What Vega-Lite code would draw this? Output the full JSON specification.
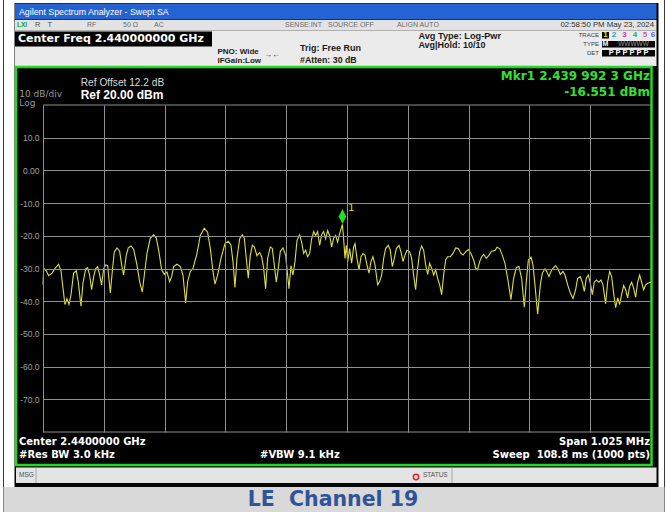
{
  "$schema": "https://vega.github.io/schema/vega-lite/v6.json",
  "width": 608,
  "height": 327,
  "autosize": {"type": "none"},
  "padding": {"left": 43, "top": 105, "right": 15, "bottom": 80},
  "background": "white",
  "config": {"view": {"stroke": null}, "axis": {"labelOverlap": false}, "text": {"font": "Liberation Sans", "baseline": "middle", "align": "left"}},
  "datasets": {
    "trace": [
      {"freq": 2439.4875, "dbm": -35.0}, {"freq": 2439.4886, "dbm": -30.4}, {"freq": 2439.4897, "dbm": -30.1}, {"freq": 2439.4931, "dbm": -30.7},
      {"freq": 2439.497, "dbm": -32.2}, {"freq": 2439.5026, "dbm": -31.4}, {"freq": 2439.5082, "dbm": -29.9}, {"freq": 2439.5138, "dbm": -28.7},
      {"freq": 2439.5178, "dbm": -30.7}, {"freq": 2439.5212, "dbm": -36.0}, {"freq": 2439.5245, "dbm": -41.0}, {"freq": 2439.5279, "dbm": -39.2},
      {"freq": 2439.5313, "dbm": -41.0}, {"freq": 2439.5347, "dbm": -38.0}, {"freq": 2439.5391, "dbm": -31.4}, {"freq": 2439.5436, "dbm": -30.7},
      {"freq": 2439.547, "dbm": -34.2}, {"freq": 2439.5515, "dbm": -41.5}, {"freq": 2439.5549, "dbm": -34.5}, {"freq": 2439.5594, "dbm": -30.1},
      {"freq": 2439.5627, "dbm": -29.7}, {"freq": 2439.5661, "dbm": -32.0}, {"freq": 2439.5695, "dbm": -36.5}, {"freq": 2439.5729, "dbm": -32.5},
      {"freq": 2439.5762, "dbm": -30.1}, {"freq": 2439.5796, "dbm": -29.4}, {"freq": 2439.583, "dbm": -32.0}, {"freq": 2439.5863, "dbm": -35.0},
      {"freq": 2439.5897, "dbm": -30.1}, {"freq": 2439.5931, "dbm": -28.9}, {"freq": 2439.5965, "dbm": -29.1}, {"freq": 2439.601, "dbm": -37.5},
      {"freq": 2439.6043, "dbm": -30.9}, {"freq": 2439.6077, "dbm": -24.9}, {"freq": 2439.6122, "dbm": -23.7}, {"freq": 2439.6167, "dbm": -24.7},
      {"freq": 2439.6201, "dbm": -28.9}, {"freq": 2439.6234, "dbm": -32.0}, {"freq": 2439.6279, "dbm": -25.9}, {"freq": 2439.6313, "dbm": -23.7},
      {"freq": 2439.6358, "dbm": -23.1}, {"freq": 2439.6403, "dbm": -24.1}, {"freq": 2439.6459, "dbm": -28.9}, {"freq": 2439.6504, "dbm": -34.0},
      {"freq": 2439.6549, "dbm": -37.2}, {"freq": 2439.6583, "dbm": -32.0}, {"freq": 2439.6628, "dbm": -25.4}, {"freq": 2439.6684, "dbm": -20.7},
      {"freq": 2439.674, "dbm": -19.7}, {"freq": 2439.6785, "dbm": -20.7}, {"freq": 2439.683, "dbm": -24.9}, {"freq": 2439.6875, "dbm": -30.4},
      {"freq": 2439.692, "dbm": -31.8}, {"freq": 2439.6965, "dbm": -31.1}, {"freq": 2439.701, "dbm": -34.0}, {"freq": 2439.7044, "dbm": -32.5},
      {"freq": 2439.7077, "dbm": -29.4}, {"freq": 2439.7134, "dbm": -28.7}, {"freq": 2439.719, "dbm": -29.4}, {"freq": 2439.7235, "dbm": -32.0},
      {"freq": 2439.728, "dbm": -40.5}, {"freq": 2439.7313, "dbm": -34.0}, {"freq": 2439.7358, "dbm": -30.9}, {"freq": 2439.7403, "dbm": -30.0},
      {"freq": 2439.7471, "dbm": -25.4}, {"freq": 2439.7527, "dbm": -19.9}, {"freq": 2439.7594, "dbm": -17.7}, {"freq": 2439.765, "dbm": -18.9},
      {"freq": 2439.7696, "dbm": -23.9}, {"freq": 2439.7741, "dbm": -30.9}, {"freq": 2439.7774, "dbm": -34.8}, {"freq": 2439.7819, "dbm": -32.0},
      {"freq": 2439.7875, "dbm": -26.9}, {"freq": 2439.7943, "dbm": -22.4}, {"freq": 2439.7999, "dbm": -21.7}, {"freq": 2439.8044, "dbm": -22.9},
      {"freq": 2439.8078, "dbm": -27.9}, {"freq": 2439.8111, "dbm": -35.8}, {"freq": 2439.8145, "dbm": -26.9}, {"freq": 2439.819, "dbm": -20.9},
      {"freq": 2439.8235, "dbm": -19.7}, {"freq": 2439.8269, "dbm": -20.7}, {"freq": 2439.8302, "dbm": -26.9}, {"freq": 2439.8336, "dbm": -33.0},
      {"freq": 2439.837, "dbm": -25.9}, {"freq": 2439.8404, "dbm": -22.9}, {"freq": 2439.8437, "dbm": -23.4}, {"freq": 2439.8482, "dbm": -26.1},
      {"freq": 2439.8527, "dbm": -25.1}, {"freq": 2439.8561, "dbm": -26.4}, {"freq": 2439.8595, "dbm": -29.9}, {"freq": 2439.8628, "dbm": -36.2},
      {"freq": 2439.8662, "dbm": -26.9}, {"freq": 2439.8707, "dbm": -23.4}, {"freq": 2439.8741, "dbm": -23.9}, {"freq": 2439.8774, "dbm": -28.9},
      {"freq": 2439.8808, "dbm": -34.2}, {"freq": 2439.8842, "dbm": -29.9}, {"freq": 2439.8876, "dbm": -24.7}, {"freq": 2439.8921, "dbm": -23.7},
      {"freq": 2439.8965, "dbm": -25.9}, {"freq": 2439.8999, "dbm": -32.0}, {"freq": 2439.9022, "dbm": -36.2}, {"freq": 2439.9056, "dbm": -29.1},
      {"freq": 2439.9089, "dbm": -32.0}, {"freq": 2439.9123, "dbm": -27.9}, {"freq": 2439.9157, "dbm": -21.4}, {"freq": 2439.9202, "dbm": -19.7},
      {"freq": 2439.9235, "dbm": -21.9}, {"freq": 2439.9269, "dbm": -25.4}, {"freq": 2439.9303, "dbm": -24.4}, {"freq": 2439.9336, "dbm": -26.4},
      {"freq": 2439.937, "dbm": -25.4}, {"freq": 2439.9404, "dbm": -20.9}, {"freq": 2439.9438, "dbm": -18.7}, {"freq": 2439.9471, "dbm": -19.9},
      {"freq": 2439.9505, "dbm": -18.7}, {"freq": 2439.9539, "dbm": -22.9}, {"freq": 2439.9572, "dbm": -19.7}, {"freq": 2439.9606, "dbm": -18.7},
      {"freq": 2439.964, "dbm": -20.9}, {"freq": 2439.9674, "dbm": -18.4}, {"freq": 2439.9707, "dbm": -19.9}, {"freq": 2439.9741, "dbm": -23.4},
      {"freq": 2439.9775, "dbm": -20.7}, {"freq": 2439.9808, "dbm": -19.9}, {"freq": 2439.9842, "dbm": -21.9}, {"freq": 2439.9876, "dbm": -19.4},
      {"freq": 2439.9923, "dbm": -16.55}, {"freq": 2439.9943, "dbm": -20.9}, {"freq": 2439.9966, "dbm": -26.9}, {"freq": 2439.9988, "dbm": -22.9},
      {"freq": 2440.0011, "dbm": -27.9}, {"freq": 2440.0044, "dbm": -23.9}, {"freq": 2440.0078, "dbm": -28.4}, {"freq": 2440.0112, "dbm": -23.4},
      {"freq": 2440.0135, "dbm": -22.4}, {"freq": 2440.0168, "dbm": -26.9}, {"freq": 2440.0202, "dbm": -30.4}, {"freq": 2440.0236, "dbm": -26.4},
      {"freq": 2440.0269, "dbm": -25.4}, {"freq": 2440.0303, "dbm": -25.9}, {"freq": 2440.0337, "dbm": -28.9}, {"freq": 2440.0371, "dbm": -31.4},
      {"freq": 2440.0404, "dbm": -27.9}, {"freq": 2440.0438, "dbm": -26.4}, {"freq": 2440.0472, "dbm": -28.9}, {"freq": 2440.0517, "dbm": -35.0},
      {"freq": 2440.055, "dbm": -34.0}, {"freq": 2440.0584, "dbm": -32.0}, {"freq": 2440.0618, "dbm": -26.9}, {"freq": 2440.0651, "dbm": -23.9},
      {"freq": 2440.0696, "dbm": -22.9}, {"freq": 2440.073, "dbm": -24.4}, {"freq": 2440.0764, "dbm": -29.4}, {"freq": 2440.0798, "dbm": -26.9},
      {"freq": 2440.0831, "dbm": -23.9}, {"freq": 2440.0876, "dbm": -22.9}, {"freq": 2440.091, "dbm": -24.9}, {"freq": 2440.0944, "dbm": -27.9},
      {"freq": 2440.0977, "dbm": -25.9}, {"freq": 2440.1011, "dbm": -24.4}, {"freq": 2440.1056, "dbm": -24.9}, {"freq": 2440.109, "dbm": -26.9},
      {"freq": 2440.1123, "dbm": -32.0}, {"freq": 2440.1157, "dbm": -36.5}, {"freq": 2440.1191, "dbm": -29.9}, {"freq": 2440.1225, "dbm": -24.9},
      {"freq": 2440.1258, "dbm": -23.1}, {"freq": 2440.1292, "dbm": -24.4}, {"freq": 2440.1326, "dbm": -28.9}, {"freq": 2440.136, "dbm": -31.8},
      {"freq": 2440.1393, "dbm": -28.4}, {"freq": 2440.1427, "dbm": -29.9}, {"freq": 2440.1461, "dbm": -32.0}, {"freq": 2440.1494, "dbm": -30.4},
      {"freq": 2440.1528, "dbm": -33.0}, {"freq": 2440.1562, "dbm": -35.0}, {"freq": 2440.1596, "dbm": -38.0}, {"freq": 2440.1629, "dbm": -32.0},
      {"freq": 2440.1663, "dbm": -27.4}, {"freq": 2440.1697, "dbm": -26.4}, {"freq": 2440.1742, "dbm": -26.4}, {"freq": 2440.1787, "dbm": -25.4},
      {"freq": 2440.1832, "dbm": -23.7}, {"freq": 2440.1877, "dbm": -23.9}, {"freq": 2440.1922, "dbm": -25.4}, {"freq": 2440.1955, "dbm": -25.9},
      {"freq": 2440.2, "dbm": -24.9}, {"freq": 2440.2045, "dbm": -24.2}, {"freq": 2440.209, "dbm": -25.4}, {"freq": 2440.2135, "dbm": -27.4},
      {"freq": 2440.2169, "dbm": -29.9}, {"freq": 2440.2202, "dbm": -30.4}, {"freq": 2440.2236, "dbm": -27.9}, {"freq": 2440.227, "dbm": -26.4},
      {"freq": 2440.2304, "dbm": -25.7}, {"freq": 2440.2349, "dbm": -26.9}, {"freq": 2440.2394, "dbm": -25.9}, {"freq": 2440.2438, "dbm": -24.7},
      {"freq": 2440.25, "dbm": -24.4}, {"freq": 2440.2528, "dbm": -23.5}, {"freq": 2440.2573, "dbm": -23.9}, {"freq": 2440.2618, "dbm": -25.9},
      {"freq": 2440.2663, "dbm": -28.4}, {"freq": 2440.2708, "dbm": -33.0}, {"freq": 2440.2764, "dbm": -39.5}, {"freq": 2440.2809, "dbm": -33.0},
      {"freq": 2440.2854, "dbm": -29.7}, {"freq": 2440.2899, "dbm": -29.4}, {"freq": 2440.2944, "dbm": -33.0}, {"freq": 2440.2989, "dbm": -41.8},
      {"freq": 2440.3023, "dbm": -34.0}, {"freq": 2440.3057, "dbm": -27.4}, {"freq": 2440.3102, "dbm": -26.5}, {"freq": 2440.3135, "dbm": -28.9},
      {"freq": 2440.3169, "dbm": -35.0}, {"freq": 2440.3214, "dbm": -44.0}, {"freq": 2440.3259, "dbm": -35.0}, {"freq": 2440.3293, "dbm": -31.4},
      {"freq": 2440.3338, "dbm": -30.1}, {"freq": 2440.3371, "dbm": -31.1}, {"freq": 2440.3405, "dbm": -32.5}, {"freq": 2440.345, "dbm": -30.4},
      {"freq": 2440.3518, "dbm": -29.1}, {"freq": 2440.3562, "dbm": -30.4}, {"freq": 2440.3596, "dbm": -31.8}, {"freq": 2440.3641, "dbm": -30.9},
      {"freq": 2440.3675, "dbm": -32.0}, {"freq": 2440.372, "dbm": -35.0}, {"freq": 2440.3765, "dbm": -37.5}, {"freq": 2440.381, "dbm": -39.2},
      {"freq": 2440.3854, "dbm": -36.5}, {"freq": 2440.3888, "dbm": -33.0}, {"freq": 2440.3933, "dbm": -32.5}, {"freq": 2440.3967, "dbm": -34.2},
      {"freq": 2440.4001, "dbm": -37.0}, {"freq": 2440.4034, "dbm": -33.0}, {"freq": 2440.4068, "dbm": -32.0}, {"freq": 2440.4102, "dbm": -34.5},
      {"freq": 2440.4136, "dbm": -38.0}, {"freq": 2440.4169, "dbm": -34.2}, {"freq": 2440.4203, "dbm": -33.5}, {"freq": 2440.4248, "dbm": -34.2},
      {"freq": 2440.4282, "dbm": -33.5}, {"freq": 2440.4315, "dbm": -35.0}, {"freq": 2440.436, "dbm": -40.8}, {"freq": 2440.4394, "dbm": -34.2},
      {"freq": 2440.4428, "dbm": -30.9}, {"freq": 2440.4462, "dbm": -32.5}, {"freq": 2440.4495, "dbm": -37.5}, {"freq": 2440.4529, "dbm": -42.0},
      {"freq": 2440.4563, "dbm": -39.0}, {"freq": 2440.4596, "dbm": -41.0}, {"freq": 2440.463, "dbm": -38.0}, {"freq": 2440.4664, "dbm": -35.2},
      {"freq": 2440.4698, "dbm": -36.5}, {"freq": 2440.4731, "dbm": -39.0}, {"freq": 2440.4765, "dbm": -35.5}, {"freq": 2440.4799, "dbm": -34.2},
      {"freq": 2440.4832, "dbm": -36.0}, {"freq": 2440.4866, "dbm": -38.8}, {"freq": 2440.49, "dbm": -34.2}, {"freq": 2440.4934, "dbm": -32.0},
      {"freq": 2440.4967, "dbm": -34.2}, {"freq": 2440.5001, "dbm": -36.5}, {"freq": 2440.5035, "dbm": -35.0}, {"freq": 2440.5069, "dbm": -34.5},
      {"freq": 2440.5125, "dbm": -34.2}
    ],
    "marker": [{"freq": 2439.9923, "dbm": -16.551, "label": "1"}]
  },
  "layer": [
    {"data": {"values": [{}]}, "mark": {"type": "rule", "stroke": "#3a3a3a", "strokeWidth": 1},
     "encoding": {"x": {"datum": 2439.42091, "type": "quantitative"}, "y": {"datum": 52.11, "type": "quantitative"}, "y2": {"datum": -104.465}}},
    {"data": {"values": [{}]}, "mark": {"type": "rule", "stroke": "#3a3a3a", "strokeWidth": 1},
     "encoding": {"x": {"datum": 2440.53526, "type": "quantitative"}, "y": {"datum": 52.11, "type": "quantitative"}, "y2": {"datum": -104.465}}},
    {"data": {"values": [{}]}, "mark": {"type": "rect", "fill": "#d9d9d9"},
     "encoding": {"x": {"datum": 2439.42091, "type": "quantitative"}, "x2": {"datum": 2440.53526}, "y": {"datum": -96.82, "type": "quantitative"}, "y2": {"datum": -104.465}}},
    {"data": {"values": [{}]}, "mark": {"type": "rect", "fill": "#060606"},
     "encoding": {"x": {"datum": 2439.43945, "type": "quantitative"}, "x2": {"datum": 2440.52515}, "y": {"datum": 51.193, "type": "quantitative"}, "y2": {"datum": -96.82}}},
    {"data": {"values": [{}]}, "mark": {"type": "rect", "fill": "#2563d3"},
     "encoding": {"x": {"datum": 2439.4403, "type": "quantitative"}, "x2": {"datum": 2440.52178}, "y": {"datum": 51.04, "type": "quantitative"}, "y2": {"datum": 46.147}}},
    {"data": {"values": [{}]}, "mark": {"type": "rect", "fill": "#e3e3e3"},
     "encoding": {"x": {"datum": 2439.4403, "type": "quantitative"}, "x2": {"datum": 2440.52178}, "y": {"datum": 45.994, "type": "quantitative"}, "y2": {"datum": 42.783}}},
    {"data": {"values": [{}]}, "mark": {"type": "rect", "fill": "#ebebeb"},
     "encoding": {"x": {"datum": 2439.4403, "type": "quantitative"}, "x2": {"datum": 2440.52178}, "y": {"datum": 42.783, "type": "quantitative"}, "y2": {"datum": 31.927}}},
    {"data": {"values": [{}]}, "mark": {"type": "rect", "fill": "#000000"},
     "encoding": {"x": {"datum": 2439.4403, "type": "quantitative"}, "x2": {"datum": 2439.77241}, "y": {"datum": 42.477, "type": "quantitative"}, "y2": {"datum": 37.89}}},
    {"data": {"values": [{}]}, "mark": {"type": "rect", "fill": "#000000"},
     "encoding": {"x": {"datum": 2440.4299, "type": "quantitative"}, "x2": {"datum": 2440.4417}, "y": {"datum": 42.324, "type": "quantitative"}, "y2": {"datum": 40.336}}},
    {"data": {"values": [{}]}, "mark": {"type": "rect", "fill": "#000000"},
     "encoding": {"x": {"datum": 2440.4299, "type": "quantitative"}, "x2": {"datum": 2440.51925}, "y": {"datum": 39.572, "type": "quantitative"}, "y2": {"datum": 37.584}}},
    {"data": {"values": [{}]}, "mark": {"type": "rect", "fill": "#000000"},
     "encoding": {"x": {"datum": 2440.4299, "type": "quantitative"}, "x2": {"datum": 2440.51925}, "y": {"datum": 36.82, "type": "quantitative"}, "y2": {"datum": 34.832}}},
    {"data": {"values": [{}]}, "mark": {"type": "rect", "fill": "#000000", "stroke": "#22d822", "strokeWidth": 2.5},
     "encoding": {"x": {"datum": 2439.44198, "type": "quantitative"}, "x2": {"datum": 2440.51335}, "y": {"datum": 31.621, "type": "quantitative"}, "y2": {"datum": -90.092}}},
    {"data": {"values": [{}]}, "mark": {"type": "rect", "fill": "#e4e4e4"},
     "encoding": {"x": {"datum": 2439.44198, "type": "quantitative"}, "x2": {"datum": 2440.52178}, "y": {"datum": -90.856, "type": "quantitative"}, "y2": {"datum": -95.596}}},
    {"data": {"values": [{}]}, "mark": {"type": "rule", "stroke": "#a8a8a8"},
     "encoding": {"x": {"datum": 2439.4757, "type": "quantitative"}, "y": {"datum": -90.856, "type": "quantitative"}, "y2": {"datum": -95.596}}},
    {"data": {"values": [{}]}, "mark": {"type": "rule", "stroke": "#a8a8a8"},
     "encoding": {"x": {"datum": 2440.17702, "type": "quantitative"}, "y": {"datum": -90.856, "type": "quantitative"}, "y2": {"datum": -95.596}}},
    {"data": {"values": [{}]}, "mark": {"type": "rule", "stroke": "#8f8f8f"},
     "encoding": {"x": {"datum": 2439.4875, "type": "quantitative"}, "x2": {"datum": 2440.5125}, "y": {"datum": 20, "type": "quantitative"}}},
    {"data": {"values": [{}]}, "mark": {"type": "rule", "stroke": "#8f8f8f"},
     "encoding": {"x": {"datum": 2439.4875, "type": "quantitative"}, "x2": {"datum": 2440.5125}, "y": {"datum": -80, "type": "quantitative"}}},
    {"data": {"name": "trace"}, "mark": {"type": "line", "color": "#dede3c", "strokeWidth": 1.1},
     "encoding": {
       "x": {"field": "freq", "type": "quantitative",
             "scale": {"domain": [2439.4875, 2440.5125], "nice": false, "zero": false},
             "axis": {"values": [2439.4875, 2439.59, 2439.6925, 2439.795, 2439.8975, 2440, 2440.1025, 2440.205, 2440.3075, 2440.41, 2440.5125],
                      "grid": true, "labels": false, "ticks": false, "domain": false, "title": null, "gridColor": "#8f8f8f", "gridOpacity": 1, "zindex": 1}},
       "y": {"field": "dbm", "type": "quantitative",
             "scale": {"domain": [-80, 20], "nice": false, "zero": false},
             "axis": {"values": [-70, -60, -50, -40, -30, -20, -10, 0, 10],
                      "grid": true, "ticks": false, "domain": false, "title": null, "gridColor": "#8f8f8f", "gridOpacity": 1,
                      "labelExpr": "datum.value == 0 ? '0.00' : datum.value + '.0'",
                      "labelOverlap": false, "labelBound": false,
                      "labelColor": "#a0a0a0", "labelFont": "Liberation Sans", "labelFontSize": 8.5, "labelPadding": 4, "zindex": 1}}
     }},
    {"data": {"name": "marker"}, "mark": {"type": "point", "shape": "M0,-1L0.5,0L0,1L-0.5,0Z", "filled": true, "color": "#22e022", "size": 225, "opacity": 1, "yOffset": -8},
     "encoding": {"x": {"field": "freq", "type": "quantitative"}, "y": {"field": "dbm", "type": "quantitative"}}},
    {"data": {"name": "marker"}, "mark": {"type": "text", "color": "#e6e63c", "fontSize": 10, "dx": 6, "dy": -17},
     "encoding": {"x": {"field": "freq", "type": "quantitative"}, "y": {"field": "dbm", "type": "quantitative"}, "text": {"field": "label"}}},

    {"data": {"values": [{}]}, "mark": {"type": "text", "text": "Agilent Spectrum Analyzer - Swept SA", "color": "#ffffff", "fontSize": 8.8},
     "encoding": {"x": {"datum": 2439.44704, "type": "quantitative"}, "y": {"datum": 48.593, "type": "quantitative"}}},
    {"data": {"values": [{}]}, "mark": {"type": "text", "text": "LXI", "color": "#1f9f1f", "fontSize": 6.5, "fontWeight": "bold"},
     "encoding": {"x": {"datum": 2439.44367, "type": "quantitative"}, "y": {"datum": 44.373, "type": "quantitative"}}},
    {"data": {"values": [{}]}, "mark": {"type": "text", "text": "R", "color": "#505050", "fontSize": 7.5},
     "encoding": {"x": {"datum": 2439.47401, "type": "quantitative"}, "y": {"datum": 44.373, "type": "quantitative"}}},
    {"data": {"values": [{}]}, "mark": {"type": "text", "text": "T", "color": "#505050", "fontSize": 7.5},
     "encoding": {"x": {"datum": 2439.49526, "type": "quantitative"}, "y": {"datum": 44.373, "type": "quantitative"}}},
    {"data": {"values": [{}]}, "mark": {"type": "text", "text": "RF", "color": "#6a6a6a", "fontSize": 7},
     "encoding": {"x": {"datum": 2439.56168, "type": "quantitative"}, "y": {"datum": 44.373, "type": "quantitative"}}},
    {"data": {"values": [{}]}, "mark": {"type": "text", "text": "50 Ω", "color": "#6a6a6a", "fontSize": 7},
     "encoding": {"x": {"datum": 2439.62237, "type": "quantitative"}, "y": {"datum": 44.373, "type": "quantitative"}}},
    {"data": {"values": [{}]}, "mark": {"type": "text", "text": "AC", "color": "#6a6a6a", "fontSize": 7},
     "encoding": {"x": {"datum": 2439.67463, "type": "quantitative"}, "y": {"datum": 44.373, "type": "quantitative"}}},
    {"data": {"values": [{}]}, "mark": {"type": "text", "text": "SENSE:INT", "color": "#6a6a6a", "fontSize": 7},
     "encoding": {"x": {"datum": 2439.89548, "type": "quantitative"}, "y": {"datum": 44.373, "type": "quantitative"}}},
    {"data": {"values": [{}]}, "mark": {"type": "text", "text": "SOURCE OFF", "color": "#6a6a6a", "fontSize": 7},
     "encoding": {"x": {"datum": 2439.96797, "type": "quantitative"}, "y": {"datum": 44.373, "type": "quantitative"}}},
    {"data": {"values": [{}]}, "mark": {"type": "text", "text": "ALIGN AUTO", "color": "#6a6a6a", "fontSize": 7},
     "encoding": {"x": {"datum": 2440.08429, "type": "quantitative"}, "y": {"datum": 44.373, "type": "quantitative"}}},
    {"data": {"values": [{}]}, "mark": {"type": "text", "text": "02:58:50 PM May 23, 2024", "color": "#303030", "fontSize": 7.8, "align": "right"},
     "encoding": {"x": {"datum": 2440.51756, "type": "quantitative"}, "y": {"datum": 44.373, "type": "quantitative"}}},
    {"data": {"values": [{}]}, "mark": {"type": "text", "text": "Center Freq 2.440000000 GHz", "color": "#ffffff", "font": "DejaVu Sans", "fontSize": 11, "fontWeight": "bold"},
     "encoding": {"x": {"datum": 2439.44535, "type": "quantitative"}, "y": {"datum": 40.092, "type": "quantitative"}}},
    {"data": {"values": [{}]}, "mark": {"type": "text", "text": "PNO: Wide", "color": "#1a1a1a", "fontSize": 8, "fontWeight": "bold"},
     "encoding": {"x": {"datum": 2439.78168, "type": "quantitative"}, "y": {"datum": 36.2, "type": "quantitative"}}},
    {"data": {"values": [{}]}, "mark": {"type": "text", "text": "IFGain:Low", "color": "#1a1a1a", "fontSize": 8, "fontWeight": "bold"},
     "encoding": {"x": {"datum": 2439.78168, "type": "quantitative"}, "y": {"datum": 33.35, "type": "quantitative"}}},
    {"data": {"values": [{}]}, "mark": {"type": "text", "text": "→←", "color": "#333333", "fontSize": 8, "align": "center"},
     "encoding": {"x": {"datum": 2439.87356, "type": "quantitative"}, "y": {"datum": 35.291, "type": "quantitative"}}},
    {"data": {"values": [{}]}, "mark": {"type": "text", "text": "Trig: Free Run", "color": "#1a1a1a", "fontSize": 9, "fontWeight": "bold"},
     "encoding": {"x": {"datum": 2439.92077, "type": "quantitative"}, "y": {"datum": 37.339, "type": "quantitative"}}},
    {"data": {"values": [{}]}, "mark": {"type": "text", "text": "#Atten: 30 dB", "color": "#1a1a1a", "fontSize": 8.8, "fontWeight": "bold"},
     "encoding": {"x": {"datum": 2439.92077, "type": "quantitative"}, "y": {"datum": 33.761, "type": "quantitative"}}},
    {"data": {"values": [{}]}, "mark": {"type": "text", "text": "Avg Type: Log-Pwr", "color": "#1a1a1a", "fontSize": 9.2, "fontWeight": "bold"},
     "encoding": {"x": {"datum": 2440.12037, "type": "quantitative"}, "y": {"datum": 41.101, "type": "quantitative"}}},
    {"data": {"values": [{}]}, "mark": {"type": "text", "text": "Avg|Hold: 10/10", "color": "#1a1a1a", "fontSize": 9, "fontWeight": "bold"},
     "encoding": {"x": {"datum": 2440.12037, "type": "quantitative"}, "y": {"datum": 38.349, "type": "quantitative"}}},
    {"data": {"values": [{}]}, "mark": {"type": "text", "text": "TRACE", "color": "#404040", "fontSize": 6, "align": "right"},
     "encoding": {"x": {"datum": 2440.42484, "type": "quantitative"}, "y": {"datum": 41.254, "type": "quantitative"}}},
    {"data": {"values": [{}]}, "mark": {"type": "text", "text": "TYPE", "color": "#404040", "fontSize": 6, "align": "right"},
     "encoding": {"x": {"datum": 2440.42484, "type": "quantitative"}, "y": {"datum": 38.654, "type": "quantitative"}}},
    {"data": {"values": [{}]}, "mark": {"type": "text", "text": "DET", "color": "#404040", "fontSize": 6, "align": "right"},
     "encoding": {"x": {"datum": 2440.42484, "type": "quantitative"}, "y": {"datum": 35.81, "type": "quantitative"}}},
    {"data": {"values": [{}]}, "mark": {"type": "text", "text": "1", "color": "#e8e800", "fontSize": 8, "fontWeight": "bold", "align": "center"},
     "encoding": {"x": {"datum": 2440.4358, "type": "quantitative"}, "y": {"datum": 41.315, "type": "quantitative"}}},
    {"data": {"values": [{}]}, "mark": {"type": "text", "text": "2", "color": "#1ea0c0", "fontSize": 8, "fontWeight": "bold", "align": "center"},
     "encoding": {"x": {"datum": 2440.45013, "type": "quantitative"}, "y": {"datum": 41.315, "type": "quantitative"}}},
    {"data": {"values": [{}]}, "mark": {"type": "text", "text": "3", "color": "#d040c0", "fontSize": 8, "fontWeight": "bold", "align": "center"},
     "encoding": {"x": {"datum": 2440.46783, "type": "quantitative"}, "y": {"datum": 41.315, "type": "quantitative"}}},
    {"data": {"values": [{}]}, "mark": {"type": "text", "text": "4", "color": "#30b030", "fontSize": 8, "fontWeight": "bold", "align": "center"},
     "encoding": {"x": {"datum": 2440.48553, "type": "quantitative"}, "y": {"datum": 41.315, "type": "quantitative"}}},
    {"data": {"values": [{}]}, "mark": {"type": "text", "text": "5", "color": "#c060d0", "fontSize": 8, "fontWeight": "bold", "align": "center"},
     "encoding": {"x": {"datum": 2440.50239, "type": "quantitative"}, "y": {"datum": 41.315, "type": "quantitative"}}},
    {"data": {"values": [{}]}, "mark": {"type": "text", "text": "6", "color": "#6060ff", "fontSize": 8, "fontWeight": "bold", "align": "center"},
     "encoding": {"x": {"datum": 2440.51587, "type": "quantitative"}, "y": {"datum": 41.315, "type": "quantitative"}}},
    {"data": {"values": [{}]}, "mark": {"type": "text", "text": "M", "color": "#ffffff", "fontSize": 7, "fontWeight": "bold", "align": "center"},
     "encoding": {"x": {"datum": 2440.4358, "type": "quantitative"}, "y": {"datum": 38.593, "type": "quantitative"}}},
    {"data": {"values": [{}]}, "mark": {"type": "text", "text": "WWWWW", "color": "#9a9a9a", "fontSize": 6.5, "align": "center"},
     "encoding": {"x": {"datum": 2440.483, "type": "quantitative"}, "y": {"datum": 38.593, "type": "quantitative"}}},
    {"data": {"values": [{}]}, "mark": {"type": "text", "text": "P P P P P P", "color": "#ffffff", "fontSize": 7.5, "fontWeight": "bold", "align": "center"},
     "encoding": {"x": {"datum": 2440.47457, "type": "quantitative"}, "y": {"datum": 35.81, "type": "quantitative"}}},
    {"data": {"values": [{}]}, "mark": {"type": "text", "text": "Ref Offset 12.2 dB", "color": "#d8d8d8", "fontSize": 10.2},
     "encoding": {"x": {"datum": 2439.55106, "type": "quantitative"}, "y": {"datum": 26.728, "type": "quantitative"}}},
    {"data": {"values": [{}]}, "mark": {"type": "text", "text": "Ref 20.00 dBm", "color": "#ffffff", "fontSize": 12, "fontWeight": "bold"},
     "encoding": {"x": {"datum": 2439.55106, "type": "quantitative"}, "y": {"datum": 23.211, "type": "quantitative"}}},
    {"data": {"values": [{}]}, "mark": {"type": "text", "text": "10 dB/div", "color": "#9a9a9a", "font": "DejaVu Sans", "fontSize": 9},
     "encoding": {"x": {"datum": 2439.44755, "type": "quantitative"}, "y": {"datum": 23.3, "type": "quantitative"}}},
    {"data": {"values": [{}]}, "mark": {"type": "text", "text": "Log", "color": "#9a9a9a", "font": "DejaVu Sans", "fontSize": 9},
     "encoding": {"x": {"datum": 2439.44755, "type": "quantitative"}, "y": {"datum": 20.6, "type": "quantitative"}}},
    {"data": {"values": [{}]}, "mark": {"type": "text", "text": "Mkr1 2.439 992 3 GHz", "color": "#33e033", "font": "DejaVu Sans", "fontSize": 12, "fontWeight": "bold", "align": "right"},
     "encoding": {"x": {"datum": 2440.51082, "type": "quantitative"}, "y": {"datum": 28.93, "type": "quantitative"}}},
    {"data": {"values": [{}]}, "mark": {"type": "text", "text": "-16.551 dBm", "color": "#33e033", "font": "DejaVu Sans", "fontSize": 12, "fontWeight": "bold", "align": "right"},
     "encoding": {"x": {"datum": 2440.51082, "type": "quantitative"}, "y": {"datum": 23.9, "type": "quantitative"}}},
    {"data": {"values": [{}]}, "mark": {"type": "text", "text": "Center 2.4400000 GHz", "color": "#ffffff", "font": "DejaVu Sans", "fontSize": 10, "fontWeight": "bold"},
     "encoding": {"x": {"datum": 2439.44704, "type": "quantitative"}, "y": {"datum": -82.966, "type": "quantitative"}}},
    {"data": {"values": [{}]}, "mark": {"type": "text", "text": "#Res BW 3.0 kHz", "color": "#ffffff", "font": "DejaVu Sans", "fontSize": 10, "fontWeight": "bold"},
     "encoding": {"x": {"datum": 2439.44704, "type": "quantitative"}, "y": {"datum": -87.034, "type": "quantitative"}}},
    {"data": {"values": [{}]}, "mark": {"type": "text", "text": "#VBW 9.1 kHz", "color": "#ffffff", "font": "DejaVu Sans", "fontSize": 10, "fontWeight": "bold"},
     "encoding": {"x": {"datum": 2439.85333, "type": "quantitative"}, "y": {"datum": -87.034, "type": "quantitative"}}},
    {"data": {"values": [{}]}, "mark": {"type": "text", "text": "Span 1.025 MHz", "color": "#ffffff", "font": "DejaVu Sans", "fontSize": 10, "fontWeight": "bold", "align": "right"},
     "encoding": {"x": {"datum": 2440.51082, "type": "quantitative"}, "y": {"datum": -82.966, "type": "quantitative"}}},
    {"data": {"values": [{}]}, "mark": {"type": "text", "text": "Sweep\u00a0 108.8 ms (1000 pts)", "color": "#ffffff", "font": "DejaVu Sans", "fontSize": 10, "fontWeight": "bold", "align": "right"},
     "encoding": {"x": {"datum": 2440.51082, "type": "quantitative"}, "y": {"datum": -87.034, "type": "quantitative"}}},
    {"data": {"values": [{}]}, "mark": {"type": "text", "text": "MSG", "color": "#505050", "fontSize": 6.5},
     "encoding": {"x": {"datum": 2439.44704, "type": "quantitative"}, "y": {"datum": -93.15, "type": "quantitative"}}},
    {"data": {"values": [{}]}, "mark": {"type": "text", "text": "STATUS", "color": "#505050", "fontSize": 6.5},
     "encoding": {"x": {"datum": 2440.12813, "type": "quantitative"}, "y": {"datum": -93.15, "type": "quantitative"}}},
    {"data": {"values": [{}]}, "mark": {"type": "point", "shape": "circle", "filled": false, "stroke": "#e02020", "strokeWidth": 1.5, "size": 28, "opacity": 1},
     "encoding": {"x": {"datum": 2440.11633, "type": "quantitative"}, "y": {"datum": -93.761, "type": "quantitative"}}},
    {"data": {"values": [{}]}, "mark": {"type": "text", "text": "LE\u00a0 Channel 19", "color": "#2f5597", "font": "DejaVu Sans", "fontSize": 20.5, "fontWeight": "bold", "align": "center"},
     "encoding": {"x": {"datum": 2439.9764, "type": "quantitative"}, "y": {"datum": -100.795, "type": "quantitative"}}}
  ]
}
